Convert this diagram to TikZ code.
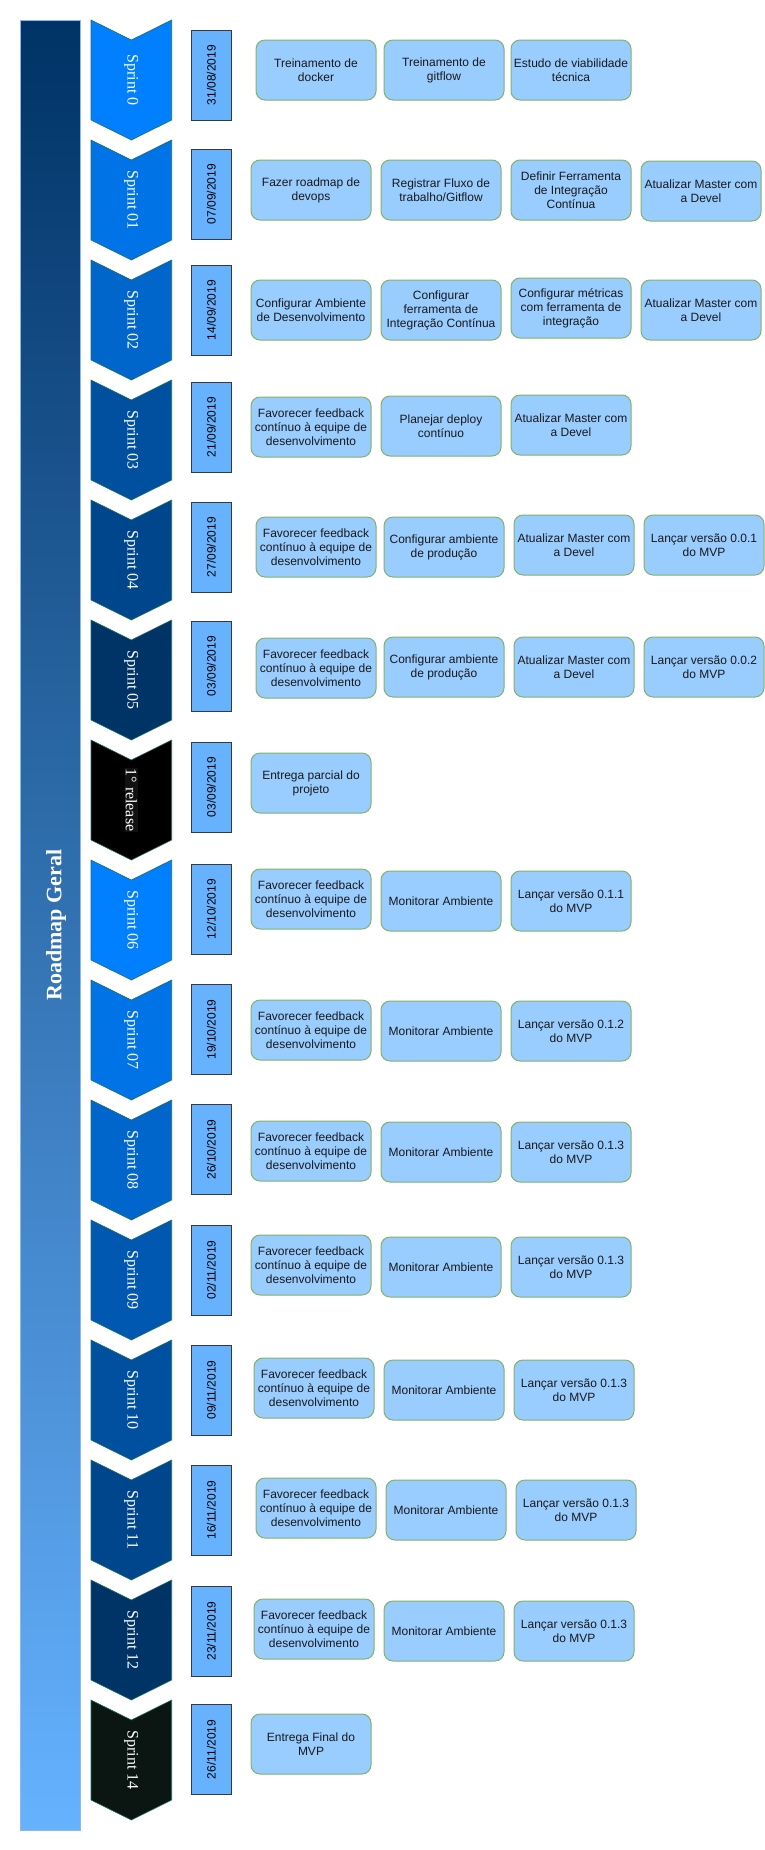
\documentclass[tikz,border=0pt]{standalone}
\usepackage{fontspec}
\setmainfont{Liberation Sans}
\newfontfamily\sprintfont{Liberation Serif}

\definecolor{barTop}{HTML}{003366}
\definecolor{barBottom}{HTML}{66B2FF}
\definecolor{barLine}{HTML}{8FB8E6}
\definecolor{chevLine}{HTML}{1F6F66}
\definecolor{dateFill}{HTML}{66B2FF}
\definecolor{dateLine}{HTML}{36393D}
\definecolor{taskFill}{HTML}{99CCFF}
\definecolor{taskLine}{HTML}{82B366}
\definecolor{sprintA}{HTML}{007FFF}
\definecolor{sprintB}{HTML}{0073E6}
\definecolor{sprintC}{HTML}{0066CC}
\definecolor{sprintD}{HTML}{0058B0}
\definecolor{sprintE}{HTML}{0050A0}
\definecolor{sprintF}{HTML}{00468C}
\definecolor{sprintG}{HTML}{003366}
\definecolor{releaseFill}{HTML}{000000}
\definecolor{releaseLabel}{HTML}{111111}
\definecolor{finalFill}{HTML}{0B1612}

\begin{document}
\begin{tikzpicture}[x=1pt, y=-1pt,
	chevron/.style = {draw=chevLine, line width=.6pt},
	sprintlabel/.style = {text=white, rotate=-90, inner sep=1pt,
		font=\sprintfont\fontsize{16}{18}\selectfont},
	datebox/.style = {draw=dateLine, fill=dateFill, line width=1pt, rotate=90,
		minimum width=90pt, minimum height=39.5pt, inner sep=0pt,
		font=\fontsize{12}{14}\selectfont},
	taskbox/.style = {draw=taskLine, fill=taskFill, line width=1pt,
		rounded corners=9pt, minimum width=120pt, minimum height=60pt,
		inner sep=1pt, align=center, text=black!90,
		font=\fontsize{12}{14}\selectfont}]
	\useasboundingbox (0,0) rectangle (764,1850);

	% Bar
	\shade[top color=barTop, bottom color=barBottom] (20,20) rectangle (80,1830);
	\draw[barLine, line width=.8pt] (20,20) rectangle (80,1830);
	\node[text=white, rotate=90, font=\sprintfont\bfseries\fontsize{22}{26}\selectfont]
		(title) at (56,925) {Roadmap Geral};

	% Sprints
	\foreach \k/\col/\lbl in {0/sprintA/Sprint 0, 1/sprintB/Sprint 01, 2/sprintC/Sprint 02,
		3/sprintE/Sprint 03, 4/sprintF/Sprint 04, 5/sprintG/Sprint 05,
		7/sprintA/Sprint 06, 8/sprintB/Sprint 07, 9/sprintC/Sprint 08,
		10/sprintD/Sprint 09, 11/sprintE/Sprint 10, 12/sprintF/Sprint 11,
		13/sprintG/Sprint 12, 14/finalFill/Sprint 14} {
		\draw[chevron, fill=\col] (91,20+120*\k) -- ++(40.35,20) -- ++(40.35,-20)
			-- ++(0,100) -- ++(-40.35,20) -- ++(-40.35,-20) -- cycle;
		\node[sprintlabel] (sprint\k) at (131.3,80+120*\k) {\lbl};
	}
	\draw[chevron, fill=releaseFill] (91,740) -- ++(40.35,20) -- ++(40.35,-20)
		-- ++(0,100) -- ++(-40.35,20) -- ++(-40.35,-20) -- cycle;
	\node[sprintlabel, fill=releaseLabel] (sprint6) at (131.3,800) {1° release};

	% Dates
	\node[datebox] (d0) at (211.3,75) {31/08/2019};
	\node[datebox] (d1) at (211.3,194) {07/09/2019};
	\node[datebox] (d2) at (211.3,310) {14/09/2019};
	\node[datebox] (d3) at (211.3,427) {21/09/2019};
	\node[datebox] (d4) at (211.3,547) {27/09/2019};
	\node[datebox] (d5) at (211.3,666) {03/09/2019};
	\node[datebox] (d6) at (211.3,787) {03/09/2019};
	\node[datebox] (d7) at (211.3,909) {12/10/2019};
	\node[datebox] (d8) at (211.3,1029.5) {19/10/2019};
	\node[datebox] (d9) at (211.3,1149.5) {26/10/2019};
	\node[datebox] (d10) at (211.3,1270) {02/11/2019};
	\node[datebox] (d11) at (211.3,1390) {09/11/2019};
	\node[datebox] (d12) at (211.3,1510) {16/11/2019};
	\node[datebox] (d13) at (211.3,1631) {23/11/2019};
	\node[datebox] (d14) at (211.3,1749.5) {26/11/2019};

	% Tasks
	\node[taskbox] (t0a) at (316,70) {Treinamento de\\docker};
	\node[taskbox] (t0b) at (444,70) {Treinamento de\\gitflow};
	\node[taskbox] (t0c) at (571,70) {Estudo de viabilidade\\técnica};

	\node[taskbox] (t1a) at (311,190) {Fazer roadmap de\\devops};
	\node[taskbox] (t1b) at (441,190) {Registrar Fluxo de\\trabalho/Gitflow};
	\node[taskbox] (t1c) at (571,190) {Definir Ferramenta\\de Integração\\Contínua};
	\node[taskbox] (t1d) at (701,191) {Atualizar Master com\\a Devel};

	\node[taskbox] (t2a) at (311,310) {Configurar Ambiente\\de Desenvolvimento};
	\node[taskbox] (t2b) at (441,310) {Configurar\\ferramenta de\\Integração Contínua};
	\node[taskbox] (t2c) at (571,308) {Configurar métricas\\com ferramenta de\\integração};
	\node[taskbox] (t2d) at (701,310) {Atualizar Master com\\a Devel};

	\node[taskbox] (t3a) at (311,427) {Favorecer feedback\\contínuo à equipe de\\desenvolvimento};
	\node[taskbox] (t3b) at (441,426) {Planejar deploy\\contínuo};
	\node[taskbox] (t3c) at (571,425) {Atualizar Master com\\a Devel};

	\node[taskbox] (t4a) at (316,547) {Favorecer feedback\\contínuo à equipe de\\desenvolvimento};
	\node[taskbox] (t4b) at (444,547) {Configurar ambiente\\de produção};
	\node[taskbox] (t4c) at (574,545) {Atualizar Master com\\a Devel};
	\node[taskbox] (t4d) at (704,545) {Lançar versão 0.0.1\\do MVP};

	\node[taskbox] (t5a) at (316,668) {Favorecer feedback\\contínuo à equipe de\\desenvolvimento};
	\node[taskbox] (t5b) at (444,667) {Configurar ambiente\\de produção};
	\node[taskbox] (t5c) at (574,667) {Atualizar Master com\\a Devel};
	\node[taskbox] (t5d) at (704,667) {Lançar versão 0.0.2\\do MVP};

	\node[taskbox] (t6a) at (311,783) {Entrega parcial do\\projeto};

	\node[taskbox] (t7a) at (311,899) {Favorecer feedback\\contínuo à equipe de\\desenvolvimento};
	\node[taskbox] (t7b) at (441,901) {Monitorar Ambiente};
	\node[taskbox] (t7c) at (571,901) {Lançar versão 0.1.1\\do MVP};

	\node[taskbox] (t8a) at (311,1030) {Favorecer feedback\\contínuo à equipe de\\desenvolvimento};
	\node[taskbox] (t8b) at (441,1031) {Monitorar Ambiente};
	\node[taskbox] (t8c) at (571,1031) {Lançar versão 0.1.2\\do MVP};

	\node[taskbox] (t9a) at (311,1151) {Favorecer feedback\\contínuo à equipe de\\desenvolvimento};
	\node[taskbox] (t9b) at (441,1152) {Monitorar Ambiente};
	\node[taskbox] (t9c) at (571,1152) {Lançar versão 0.1.3\\do MVP};

	\node[taskbox] (t10a) at (311,1265) {Favorecer feedback\\contínuo à equipe de\\desenvolvimento};
	\node[taskbox] (t10b) at (441,1267) {Monitorar Ambiente};
	\node[taskbox] (t10c) at (571,1267) {Lançar versão 0.1.3\\do MVP};

	\node[taskbox] (t11a) at (314,1388) {Favorecer feedback\\contínuo à equipe de\\desenvolvimento};
	\node[taskbox] (t11b) at (444,1390) {Monitorar Ambiente};
	\node[taskbox] (t11c) at (574,1390) {Lançar versão 0.1.3\\do MVP};

	\node[taskbox] (t12a) at (316,1508) {Favorecer feedback\\contínuo à equipe de\\desenvolvimento};
	\node[taskbox] (t12b) at (446,1510) {Monitorar Ambiente};
	\node[taskbox] (t12c) at (576,1510) {Lançar versão 0.1.3\\do MVP};

	\node[taskbox] (t13a) at (314,1629) {Favorecer feedback\\contínuo à equipe de\\desenvolvimento};
	\node[taskbox] (t13b) at (444,1631) {Monitorar Ambiente};
	\node[taskbox] (t13c) at (574,1631) {Lançar versão 0.1.3\\do MVP};

	\node[taskbox] (t14a) at (311,1744) {Entrega Final do\\MVP};
\end{tikzpicture}
\end{document}
